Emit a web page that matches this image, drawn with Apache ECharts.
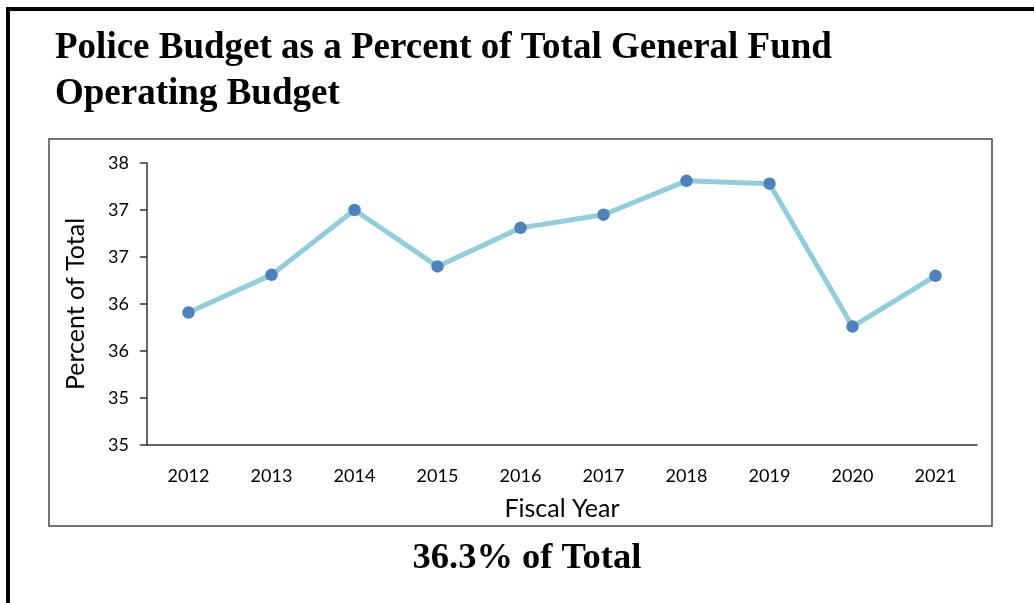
<!DOCTYPE html>
<html>
<head>
<meta charset="utf-8">
<script src="https://cdn.jsdelivr.net/npm/echarts@6/dist/echarts.min.js"></script>
<style>
  html, body { margin: 0; padding: 0; background: #ffffff; }
  #chart { width: 1034px; height: 603px; }
</style>
</head>
<body>
<div id="chart"></div>
<script>
// Fiscal years on the category axis
const fiscalYears = ['2012', '2013', '2014', '2015', '2016', '2017', '2018', '2019', '2020', '2021'];
// Police budget as a percent of the total general fund operating budget
const policeShare = [35.91, 36.31, 37.0, 36.4, 36.81, 36.95, 37.31, 37.28, 35.76, 36.3];
// Value axis range and step
const yMin = 34.5;
const yMax = 37.5;
const yStep = 0.5;

const titleLines = ['Police Budget as a Percent of Total General Fund', 'Operating Budget'];
const latestShare = policeShare[policeShare.length - 1];
const summaryText = latestShare.toFixed(1) + '% of Total';

const serif = '"Liberation Serif", "Times New Roman", serif';
const sans = 'Lato, "Open Sans", sans-serif';

const chart = echarts.init(document.getElementById('chart'), null, { renderer: 'canvas' });

chart.setOption({
  animation: false,
  backgroundColor: '#ffffff',
  grid: { left: 147, right: 57, top: 163, bottom: 158, containLabel: false },
  xAxis: {
    type: 'category',
    data: fiscalYears,
    boundaryGap: true,
    name: 'Fiscal Year',
    nameLocation: 'middle',
    nameGap: 51,
    nameTextStyle: { fontFamily: sans, fontSize: 25, color: '#000000' },
    axisLine: { show: true, lineStyle: { color: '#333333', width: 1.5 } },
    axisTick: { show: false },
    axisLabel: { fontFamily: sans, fontSize: 18, color: '#000000', margin: 22 },
    splitLine: { show: false }
  },
  yAxis: {
    type: 'value',
    min: yMin,
    max: yMax,
    interval: yStep,
    name: 'Percent of Total',
    nameLocation: 'middle',
    nameRotate: 90,
    nameGap: 59,
    nameTextStyle: { fontFamily: sans, fontSize: 25, color: '#000000' },
    axisLine: { show: true, lineStyle: { color: '#333333', width: 1.5 } },
    axisTick: { show: true, inside: false, length: 7, lineStyle: { color: '#333333', width: 1.5 } },
    axisLabel: {
      fontFamily: sans, fontSize: 18, color: '#000000', margin: 18,
      formatter: function (v) { return String(Math.round(v + 1e-9)); }
    },
    splitLine: { show: false }
  },
  series: [{
    type: 'line',
    data: policeShare,
    symbol: 'circle',
    symbolSize: 12.5,
    lineStyle: { color: '#92CDDC', width: 5 },
    itemStyle: { color: '#4F81BD' },
    z: 3
  }],
  graphic: [
    // page frame: heavy rules along the top and left edges
    { type: 'line', shape: { x1: 6, y1: 9, x2: 1034, y2: 9 }, style: { stroke: '#000000', lineWidth: 4 }, silent: true },
    { type: 'line', shape: { x1: 8, y1: 7, x2: 8, y2: 603 }, style: { stroke: '#000000', lineWidth: 4 }, silent: true },
    // chart box
    { type: 'rect', shape: { x: 49, y: 139, width: 943, height: 387 }, style: { fill: null, stroke: '#474747', lineWidth: 1.5 }, silent: true },
    // heading
    { type: 'text', x: 55, y: 48, style: { text: titleLines[0], font: 'bold 37px ' + serif, fill: '#000000', textVerticalAlign: 'middle' }, silent: true },
    { type: 'text', x: 55, y: 94, style: { text: titleLines[1], font: 'bold 37px ' + serif, fill: '#000000', textVerticalAlign: 'middle' }, silent: true },
    // summary line beneath the chart
    { type: 'text', x: 527, y: 559, style: { text: summaryText, font: 'bold 36.5px ' + serif, fill: '#000000', textAlign: 'center', textVerticalAlign: 'middle' }, silent: true }
  ]
});
</script>
</body>
</html>
